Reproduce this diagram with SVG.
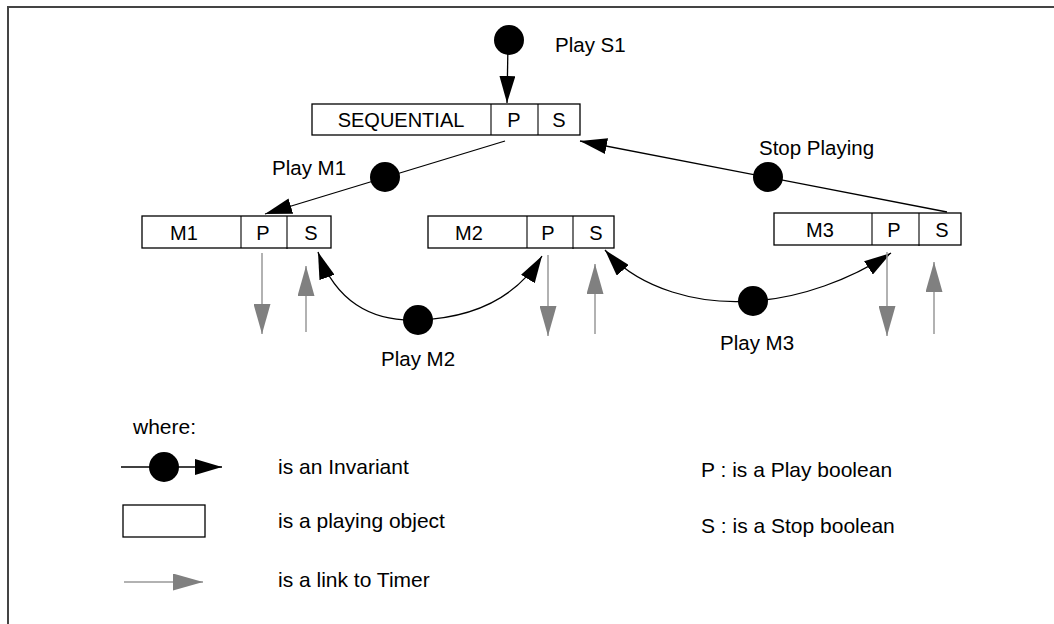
<svg xmlns="http://www.w3.org/2000/svg" width="1054" height="624" viewBox="0 0 1054 624">
<defs>
<style>
text{font-family:"Liberation Sans",Arial,sans-serif;font-size:20px;fill:#000}
.lb{font-size:20.5px}
.lg{font-size:21px}
.box{fill:#fff;stroke:#000;stroke-width:1.3}
.div{stroke:#000;stroke-width:1.1}
.c{text-anchor:middle}
.blk{fill:none;stroke:#000;stroke-width:1.3;marker-end:url(#ah)}
.gry{fill:none;stroke:#999;stroke-width:1.5;marker-end:url(#gh)}
.dot{fill:#000}
</style>
<marker id="ah" markerUnits="userSpaceOnUse" markerWidth="27" markerHeight="16" viewBox="0 0 27 16" refX="27" refY="8" orient="auto"><path d="M0,0 L27,8 L0,16 z" fill="#000"/></marker>
<marker id="gh" markerUnits="userSpaceOnUse" markerWidth="30" markerHeight="17" viewBox="0 0 30 17" refX="30" refY="8.5" orient="auto"><path d="M0,0 L30,8.5 L0,17 z" fill="#808080"/></marker>
</defs>
<rect x="8" y="7" width="1100" height="700" fill="none" stroke="#444" stroke-width="2"/>
<g id="seq">
<rect class="box" x="312" y="104" width="268" height="31"/>
<line class="div" x1="491" y1="104" x2="491" y2="135"/>
<line class="div" x1="538" y1="104" x2="538" y2="135"/>
<text class="c" x="401" y="127">SEQUENTIAL</text>
<text class="c" x="514" y="127">P</text>
<text class="c" x="559" y="127">S</text>
</g>
<g id="m1">
<rect class="box" x="142" y="216" width="189" height="32"/>
<line class="div" x1="241" y1="216" x2="241" y2="248"/>
<line class="div" x1="287" y1="216" x2="287" y2="249"/>
<text class="c" x="184" y="240">M1</text>
<text class="c" x="263" y="240">P</text>
<text class="c" x="311" y="240">S</text>
</g>
<g id="m2">
<rect class="box" x="428" y="216" width="186" height="32"/>
<line class="div" x1="527" y1="216" x2="527" y2="248"/>
<line class="div" x1="573" y1="216" x2="573" y2="249"/>
<text class="c" x="469" y="240">M2</text>
<text class="c" x="548" y="240">P</text>
<text class="c" x="596" y="240">S</text>
</g>
<g id="m3">
<rect class="box" x="774" y="213" width="187" height="32"/>
<line class="div" x1="872" y1="213" x2="872" y2="245"/>
<line class="div" x1="919" y1="213" x2="919" y2="246"/>
<text class="c" x="820" y="237">M3</text>
<text class="c" x="894" y="237">P</text>
<text class="c" x="942" y="237">S</text>
</g>
<g id="connectors">
<line class="blk" x1="508" y1="42" x2="507" y2="103"/>
<circle class="dot" cx="509" cy="40" r="15"/>
<text class="lb" x="555" y="52">Play S1</text>
<line class="blk" x1="505" y1="141" x2="265" y2="214"/>
<circle class="dot" cx="385" cy="177" r="15"/>
<text class="lb" x="272" y="175">Play M1</text>
<line class="blk" x1="947" y1="212" x2="580" y2="141"/>
<circle class="dot" cx="768" cy="177" r="15"/>
<text class="lb" x="759" y="155">Stop Playing</text>
<path class="blk" d="M418,320 C370,322 335,300 318,252"/>
<path class="blk" d="M418,320 C470,318 515,300 542,256"/>
<circle class="dot" cx="418" cy="320" r="15"/>
<text class="lb" x="381" y="366">Play M2</text>
<path class="blk" d="M753,301 C700,305 640,290 605,250"/>
<path class="blk" d="M753,301 C800,298 850,280 891,253"/>
<circle class="dot" cx="753" cy="301" r="15"/>
<text class="lb" x="720" y="350">Play M3</text>
<line class="gry" x1="262" y1="253" x2="262" y2="334"/>
<line class="gry" x1="306" y1="332" x2="306" y2="266"/>
<line class="gry" x1="548" y1="255" x2="548" y2="336"/>
<line class="gry" x1="595" y1="334" x2="595" y2="264"/>
<line class="gry" x1="887" y1="252" x2="887" y2="336"/>
<line class="gry" x1="934" y1="334" x2="934" y2="262"/>
</g>
<g id="legend">
<text class="lg" x="133" y="434">where:</text>
<line class="blk" x1="121" y1="467" x2="222" y2="467"/>
<circle class="dot" cx="164" cy="467" r="15"/>
<text class="lg" x="278" y="474">is an Invariant</text>
<rect class="box" x="123" y="505" width="82" height="32"/>
<text class="lg" x="278" y="528">is a playing object</text>
<line class="gry" x1="124" y1="582" x2="203" y2="582"/>
<text class="lg" x="278" y="587">is a link to Timer</text>
<text class="lg" x="701" y="477">P : is a Play boolean</text>
<text class="lg" x="701" y="533">S : is a Stop boolean</text>
</g>
</svg>
